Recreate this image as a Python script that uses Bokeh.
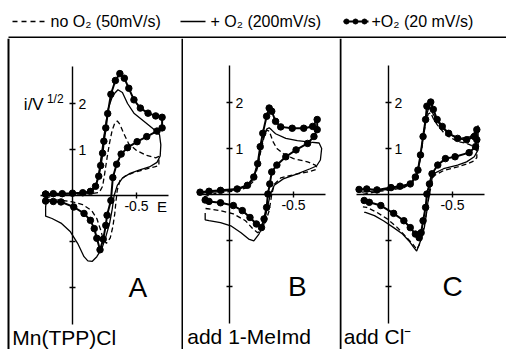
from bokeh.plotting import figure
from bokeh.models import Range1d, LinearAxis, FixedTicker, Span, Label
from bokeh.layouts import column, row
from bokeh.embed import file_html
from bokeh.resources import INLINE

# ---------------- data (E in V, i/v^1/2 in arbitrary units) ----------------
# Panel A: Mn(TPP)Cl
A_dash_E = [0.21, 0.15, 0.05, -0.05, -0.15, -0.21, -0.235, -0.25, -0.27, -0.29, -0.31, -0.33, -0.35, -0.37, -0.40, -0.44, -0.50, -0.58, -0.65, -0.675,
            -0.675, -0.64, -0.58, -0.48, -0.41, -0.37, -0.35, -0.34, -0.33, -0.315, -0.295, -0.265, -0.24, -0.22, -0.19, -0.15, -0.08, 0.0, 0.1, 0.2]
A_dash_i = [-0.06, 0.0, 0.02, 0.03, 0.04, 0.07, 0.2, 0.45, 0.82, 1.15, 1.42, 1.57, 1.62, 1.55, 1.35, 1.12, 0.98, 0.87, 0.82, 0.85,
            0.65, 0.62, 0.58, 0.50, 0.42, 0.32, 0.12, -0.12, -0.40, -0.68, -0.92, -1.04, -0.95, -0.75, -0.5, -0.33, -0.2, -0.14, -0.1, -0.09]

A_solid_E = [0.21, 0.20, 0.15, 0.05, -0.05, -0.14, -0.18, -0.205, -0.23, -0.255, -0.28, -0.315, -0.355, -0.39, -0.43, -0.48, -0.56, -0.63, -0.68,
             -0.69, -0.685, -0.66, -0.60, -0.52, -0.45, -0.39, -0.35, -0.325, -0.31, -0.29, -0.26, -0.23, -0.19, -0.155, -0.12, -0.09, -0.04, 0.016, 0.09, 0.16, 0.21, 0.21]
A_solid_i = [-0.25, 0.0, 0.02, 0.03, 0.04, 0.07, 0.18, 0.47, 0.97, 1.47, 1.90, 2.18, 2.30, 2.24, 2.0, 1.79, 1.61, 1.45, 1.32,
             1.1, 0.86, 0.72, 0.62, 0.55, 0.48, 0.38, 0.22, 0.0, -0.3, -0.6, -0.9, -1.15, -1.33, -1.43, -1.42, -1.33, -1.04, -0.79, -0.6, -0.5, -0.45, -0.25]

A_dot_E = [0.21, 0.15, 0.08, 0.0, -0.08, -0.14, -0.18, -0.205, -0.22, -0.235, -0.245, -0.26, -0.275, -0.30, -0.335, -0.37, -0.405, -0.44, -0.48, -0.53, -0.59, -0.65, -0.70,
           -0.70, -0.66, -0.58, -0.505, -0.43, -0.38, -0.345, -0.315, -0.30, -0.27, -0.26, -0.24, -0.215, -0.19, -0.17, -0.14, -0.09, -0.01, 0.09, 0.15, 0.21, 0.21]
A_dot_i = [0.03, 0.04, 0.04, 0.05, 0.06, 0.09, 0.2, 0.42, 0.65, 0.92, 1.18, 1.47, 1.78, 2.2, 2.5, 2.65, 2.55, 2.33, 2.08, 1.90, 1.79, 1.73, 1.70,
           1.47, 1.40, 1.28, 1.17, 1.04, 0.90, 0.68, 0.39, -0.11, -0.43, -0.65, -0.95, -1.18, -0.93, -0.72, -0.54, -0.39, -0.25, -0.14, -0.13, -0.12, 0.03]

# Panel B: add 1-MeImd
B_dash_E = [0.2, 0.1, -0.05, -0.14, -0.19, -0.22, -0.245, -0.27, -0.29, -0.31, -0.34, -0.37, -0.42, -0.50, -0.61, -0.67, -0.68,
            -0.68, -0.63, -0.53, -0.40, -0.35, -0.33, -0.31, -0.28, -0.245, -0.22, -0.18, -0.125, -0.03, 0.07, 0.17, 0.2]
B_dash_i = [-0.05, 0.03, 0.08, 0.15, 0.3, 0.6, 0.95, 1.25, 1.40, 1.38, 1.15, 1.0, 0.89, 0.78, 0.71, 0.64, 0.60,
            0.55, 0.50, 0.45, 0.36, 0.22, 0.0, -0.35, -0.62, -0.79, -0.83, -0.74, -0.57, -0.42, -0.35, -0.31, -0.3]

B_solid_E = [0.22, 0.1, -0.05, -0.14, -0.19, -0.22, -0.245, -0.27, -0.29, -0.31, -0.33, -0.36, -0.44, -0.53, -0.63, -0.70, -0.72, -0.71,
             -0.68, -0.63, -0.53, -0.42, -0.35, -0.32, -0.29, -0.27, -0.23, -0.19, -0.15, -0.09, -0.01, 0.07, 0.16, 0.19, 0.19]
B_solid_i = [0.03, 0.06, 0.1, 0.18, 0.36, 0.65, 1.0, 1.28, 1.42, 1.45, 1.40, 1.32, 1.22, 1.17, 1.14, 1.12, 1.0, 0.75,
             0.62, 0.56, 0.45, 0.34, 0.2, 0.01, -0.35, -0.64, -0.86, -1.01, -0.97, -0.83, -0.68, -0.61, -0.57, -0.55, -0.40]

B_dot_E = [0.23, 0.16, 0.07, -0.06, -0.14, -0.19, -0.22, -0.24, -0.26, -0.29, -0.31, -0.33, -0.36, -0.40, -0.49, -0.58, -0.65, -0.685,
           -0.685, -0.66, -0.61, -0.52, -0.44, -0.37, -0.33, -0.315, -0.30, -0.29, -0.27, -0.25, -0.21, -0.16, -0.10, -0.03, 0.07, 0.16, 0.19]
B_dot_i = [0.05, 0.07, 0.09, 0.12, 0.2, 0.38, 0.67, 1.04, 1.33, 1.70, 1.88, 1.81, 1.59, 1.47, 1.44, 1.44, 1.48, 1.63,
           1.41, 1.26, 1.11, 0.97, 0.82, 0.64, 0.49, 0.23, 0.01, -0.28, -0.53, -0.72, -0.64, -0.5, -0.35, -0.24, -0.18, -0.15, -0.12]

# Panel C: add Cl-
C_dash_E = [0.2, 0.1, -0.02, -0.12, -0.19, -0.23, -0.25, -0.27, -0.29, -0.31, -0.33, -0.35, -0.38, -0.445, -0.54, -0.61, -0.67, -0.69,
            -0.69, -0.66, -0.61, -0.54, -0.43, -0.35, -0.33, -0.31, -0.29, -0.265, -0.24, -0.22, -0.19, -0.13, -0.07, 0.01, 0.09, 0.17, 0.2]
C_dash_i = [0.0, 0.06, 0.1, 0.15, 0.26, 0.48, 0.8, 1.2, 1.55, 1.75, 1.78, 1.65, 1.52, 1.30, 1.15, 1.11, 1.04, 0.95,
            0.80, 0.72, 0.66, 0.60, 0.52, 0.40, 0.15, -0.15, -0.5, -0.85, -1.1, -1.19, -1.08, -0.9, -0.72, -0.53, -0.39, -0.28, -0.27]

C_solid_E = [0.21, 0.1, -0.02, -0.12, -0.19, -0.23, -0.25, -0.27, -0.29, -0.31, -0.33, -0.35, -0.41, -0.48, -0.56, -0.64, -0.68, -0.70,
             -0.70, -0.67, -0.61, -0.54, -0.43, -0.35, -0.33, -0.315, -0.30, -0.28, -0.25, -0.22, -0.20, -0.16, -0.11, -0.04, 0.04, 0.11, 0.18, 0.19]
C_solid_i = [0.05, 0.08, 0.12, 0.17, 0.28, 0.5, 0.85, 1.25, 1.62, 1.85, 1.88, 1.74, 1.48, 1.30, 1.22, 1.26, 1.37, 1.5,
             0.97, 0.82, 0.71, 0.64, 0.56, 0.45, 0.23, 0.01, -0.35, -0.72, -1.01, -1.23, -1.16, -1.01, -0.86, -0.72, -0.57, -0.46, -0.39, -0.39]

C_dot_E = [0.23, 0.17, 0.09, -0.02, -0.09, -0.17, -0.21, -0.23, -0.25, -0.27, -0.29, -0.30, -0.33, -0.35, -0.38, -0.42, -0.47, -0.54, -0.61, -0.67, -0.69,
           -0.69, -0.68, -0.63, -0.52, -0.445, -0.385, -0.34, -0.32, -0.30, -0.29, -0.27, -0.255, -0.24, -0.21, -0.17, -0.12, -0.04, 0.06, 0.15, 0.19]
C_dot_i = [0.11, 0.12, 0.10, 0.15, 0.18, 0.23, 0.38, 0.53, 0.86, 1.26, 1.63, 1.92, 2.01, 1.85, 1.63, 1.48, 1.33, 1.22, 1.19, 1.26, 1.41,
           1.19, 1.04, 0.91, 0.82, 0.78, 0.64, 0.45, 0.23, 0.01, -0.28, -0.57, -0.83, -0.94, -0.86, -0.72, -0.57, -0.41, -0.24, -0.17, -0.13]

y_ticks = [-2, -1, 1, 2]
y_tick_labels = {-2: "", -1: "", 1: "1", 2: "2"}
x_ticks = [-0.5]
x_tick_labels = {-0.5: "-0.5"}
panel_letters = ["A", "B", "C"]
panel_captions = ["Mn(TPP)Cl", "add 1-MeImd", "add Cl\u207b"]
legend_texts = ["no O\u2082 (50mV/s)", "+ O\u2082 (200mV/s)", "+O\u2082 (20 mV/s)"]

# ---------------- layout constants (pixels) ----------------
FONT = "Liberation Sans"
SX = 128.0   # px per volt
SY = 46.0    # px per current unit
TOP = 38     # height of legend strip
H = 349 - TOP


def make_panel(width, ox, oy, dash, solid, dot, letter, letter_E, caption, caption_E,
               left_border_px=None, right_border_px=None, ylabel=False, elabel=False):
    oy_l = oy - TOP
    x_range = Range1d(ox / SX, -(width - ox) / SX)
    y_range = Range1d(-(H - oy_l) / SY, oy_l / SY)
    p = figure(width=width, height=H, x_range=x_range, y_range=y_range,
               output_backend="svg", toolbar_location=None, min_border=0,
               x_axis_type=None, y_axis_type=None, outline_line_color=None,
               background_fill_color="white", border_fill_color="white")
    p.min_border_left = p.min_border_right = p.min_border_top = p.min_border_bottom = 0

    yax = LinearAxis(fixed_location=0, bounds=(-2.8, 2.8), ticker=FixedTicker(ticks=y_ticks),
                     major_label_overrides=y_tick_labels, major_tick_in=3, major_tick_out=3,
                     minor_tick_in=0, minor_tick_out=0, axis_line_width=1.4,
                     major_tick_line_width=1.4, major_label_text_font_size="14px",
                     major_label_text_font=FONT, major_label_standoff=3,
                     major_label_text_color="black")
    p.add_layout(yax, "right")
    xax = LinearAxis(fixed_location=0, bounds=(-0.75, 0.25), ticker=FixedTicker(ticks=x_ticks),
                     major_label_overrides=x_tick_labels, major_tick_in=3, major_tick_out=3,
                     minor_tick_in=0, minor_tick_out=0, axis_line_width=1.4,
                     major_tick_line_width=1.4, major_label_text_font_size="14px",
                     major_label_text_font=FONT, major_label_standoff=2,
                     major_label_text_color="black")
    p.add_layout(xax, "below")

    p.line(dash[0], dash[1], line_color="black", line_width=1.3, line_dash="5 3")
    p.line(solid[0], solid[1], line_color="black", line_width=1.3)
    p.line(dot[0], dot[1], line_color="black", line_width=2)
    p.scatter(dot[0], dot[1], marker="circle", size=6.5, color="black")

    p.add_layout(Label(x=letter_E, y=-2.0, text=letter, text_font=FONT, text_font_size="28px",
                       text_align="center", text_baseline="middle", text_color="black"))
    p.add_layout(Label(x=caption_E, y=-3.08, text=caption, text_font=FONT, text_font_size="21px",
                       text_align="left", text_baseline="middle", text_color="black"))
    if left_border_px is not None:
        p.add_layout(Span(location=(ox - left_border_px) / SX, dimension="height",
                          line_color="black", line_width=2))
    if right_border_px is not None:
        p.add_layout(Span(location=-(right_border_px - ox) / SX, dimension="height",
                          line_color="black", line_width=2))
    if ylabel:
        p.add_layout(Label(x=0.38, y=1.98, text="i/V", text_font=FONT, text_font_size="17px",
                           text_baseline="middle", text_color="black"))
        p.add_layout(Label(x=0.20, y=2.1, text="1/2", text_font=FONT, text_font_size="12px",
                           text_baseline="middle", text_color="black"))
    if elabel:
        p.add_layout(Label(x=-0.66, y=-0.24, text="E", text_font=FONT, text_font_size="15px",
                           text_align="left", text_baseline="middle", text_color="black"))
    return p


pA = make_panel(183, 72, 195, (A_dash_E, A_dash_i), (A_solid_E, A_solid_i), (A_dot_E, A_dot_i),
                panel_letters[0], -0.51, panel_captions[0], 0.47,
                left_border_px=8, right_border_px=182, ylabel=True, elabel=True)
pB = make_panel(156, 229 - 183, 194, (B_dash_E, B_dash_i), (B_solid_E, B_solid_i), (B_dot_E, B_dot_i),
                panel_letters[1], -0.53, panel_captions[1], 0.33)
pC = make_panel(167, 388 - 339, 194, (C_dash_E, C_dash_i), (C_solid_E, C_solid_i), (C_dot_E, C_dot_i),
                panel_letters[2], -0.50, panel_captions[2], 0.35, left_border_px=1)

# ---------------- legend strip ----------------
pl = figure(width=506, height=TOP, x_range=Range1d(0, 506), y_range=Range1d(TOP, 0),
            output_backend="svg", toolbar_location=None, min_border=0,
            x_axis_type=None, y_axis_type=None, outline_line_color=None,
            background_fill_color="white", border_fill_color="white")
pl.min_border_left = pl.min_border_right = pl.min_border_top = pl.min_border_bottom = 0
ly = 21
pl.line([12, 45], [ly, ly], line_color="black", line_width=1.3, line_dash="5 4")
pl.line([180, 205], [ly, ly], line_color="black", line_width=1.3)
pl.line([343, 368], [ly, ly], line_color="black", line_width=2)
pl.scatter([346, 355, 364], [ly, ly, ly], marker="circle", size=5, color="black")
for xx, t in zip([50, 210, 371], legend_texts):
    pl.add_layout(Label(x=xx, y=ly, text=t, text_font=FONT, text_font_size="16px",
                        text_baseline="middle", text_color="black"))
pl.line([8, 506], [TOP - 1, TOP - 1], line_color="black", line_width=2)

layout = column(pl, row(pA, pB, pC, spacing=0), spacing=0)
open("out.html", "w").write(file_html(layout, INLINE))
